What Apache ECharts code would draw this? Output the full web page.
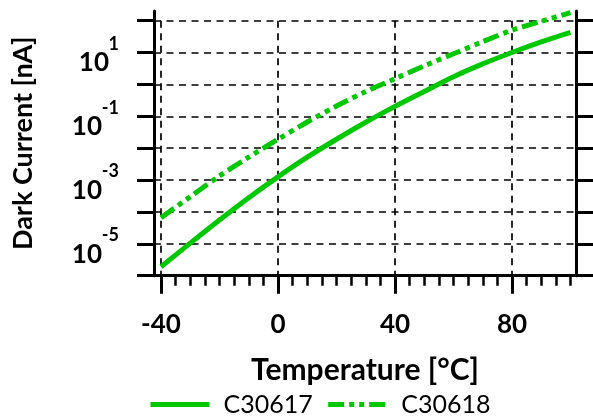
<!DOCTYPE html>
<html>
<head>
<meta charset="utf-8">
<script src="https://cdn.jsdelivr.net/npm/echarts@6/dist/echarts.min.js"></script>
<style>
html,body{margin:0;padding:0;background:#fff;}
#chart{width:593px;height:419px;}
</style>
</head>
<body>
<div id="chart"></div>
<script>
// Temperature (°C)
const temperatures = [-40, -30, -20, -10, 0, 10, 20, 30, 40, 50, 60, 70, 80, 90, 100];
// Dark current (nA)
const c30617 = [1.9e-6, 1.05e-5, 5.6e-5, 2.8e-4, 1.26e-3, 5.2e-3, 0.019, 0.065, 0.204, 0.60, 1.74, 4.4, 10, 21.4, 42.7];
const c30618 = [6.6e-5, 3.0e-4, 1.35e-3, 5.2e-3, 0.019, 0.066, 0.209, 0.60, 1.51, 3.8, 9.1, 21.9, 50, 95, 178];
const seriesNames = ['C30617', 'C30618'];
const xTickLabels = ['-40', '0', '40', '80'];
const yLabelExps = [1, -1, -3, -5];

const FONT = 'Lato';
const GREEN = '#00c800';
const gridDash = { color: '#000', width: 1.7, type: [7, 5.5] };

const chart = echarts.init(document.getElementById('chart'));
const pairs = arr => temperatures.map((t, i) => [t, arr[i]]);

chart.setOption({
  animation: false,
  backgroundColor: '#fff',
  grid: [
    { left: 161, right: 22.5, top: 11, bottom: 143.3 },   // 0 main plot
    { left: 154, right: 17, top: 11, bottom: 143.3 },     // 1 frame
    { left: 161, right: 81, top: 20.7, bottom: 143.3 },   // 2 x major ticks/grid
    { left: 154, right: 17, top: 20.7, bottom: 143.3 }    // 3 y ticks/grid
  ],
  xAxis: [
    { gridIndex: 0, type: 'value', min: -40, max: 100, interval: 5,
      axisLine: { show: false, onZero: false },
      axisTick: { show: true, length: 10, lineStyle: { color: '#000', width: 2.5 } },
      axisLabel: { show: false }, splitLine: { show: false } },
    { gridIndex: 1, type: 'value', min: 0, max: 1,
      axisLine: { show: true, onZero: false, lineStyle: { color: '#000', width: 3 } },
      axisTick: { show: false }, axisLabel: { show: false }, splitLine: { show: false },
      name: 'Temperature [°C]', nameLocation: 'middle', nameGap: 80,
      nameTextStyle: { fontFamily: FONT, fontWeight: 'bold', fontSize: 30, color: '#000' } },
    { gridIndex: 2, type: 'value', min: -40, max: 80, interval: 40,
      axisLine: { show: false, onZero: false },
      axisTick: { show: true, length: 18, lineStyle: { color: '#000', width: 3 } },
      axisLabel: { show: true, margin: 36, fontFamily: FONT, fontWeight: 'bold', fontSize: 26, color: '#000',
        formatter: v => xTickLabels.includes(String(v)) ? String(v) : '' },
      splitLine: { show: true, lineStyle: gridDash } },
    { gridIndex: 3, type: 'value', min: 0, max: 1, show: false }
  ],
  yAxis: [
    { gridIndex: 0, type: 'log', min: 1e-6, max: 200, show: false },
    { gridIndex: 1, type: 'value', min: 0, max: 1, position: 'left',
      axisLine: { show: true, onZero: false, lineStyle: { color: '#000', width: 3 } },
      axisTick: { show: false }, axisLabel: { show: false }, splitLine: { show: false },
      name: 'Dark Current [nA]', nameLocation: 'middle', nameGap: 117, nameRotate: 90,
      nameTextStyle: { fontFamily: FONT, fontWeight: 'bold', fontSize: 27, color: '#000' } },
    { gridIndex: 1, type: 'value', min: 0, max: 1, position: 'right',
      axisLine: { show: true, onZero: false, lineStyle: { color: '#000', width: 3 } },
      axisTick: { show: false }, axisLabel: { show: false }, splitLine: { show: false } },
    { gridIndex: 3, type: 'log', min: 1e-6, max: 100, splitNumber: 8, position: 'left',
      axisLine: { show: false, onZero: false },
      axisTick: { show: true, length: 17, lineStyle: { color: '#000', width: 3 } },
      axisLabel: { show: true, margin: 35, color: '#000', align: 'right',
        formatter: v => {
          const e = Math.round(Math.log10(v));
          if (!yLabelExps.includes(e)) return '';
          return '{e|' + e + '}\n{' + (e < 0 ? 'bn' : 'bp') + '|10}';
        },
        rich: {
          e: { fontFamily: FONT, fontWeight: 'bold', fontSize: 18, lineHeight: 21, color: '#000', align: 'right' },
          bp: { fontFamily: FONT, fontWeight: 'bold', fontSize: 26, lineHeight: 17, color: '#000', align: 'right', padding: [0, 10, 0, 0] },
          bn: { fontFamily: FONT, fontWeight: 'bold', fontSize: 26, lineHeight: 17, color: '#000', align: 'right', padding: [0, 17, 0, 0] }
        } },
      splitLine: { show: true, lineStyle: gridDash } },
    { gridIndex: 3, type: 'log', min: 1e-6, max: 100, splitNumber: 8, position: 'right',
      axisLine: { show: false, onZero: false },
      axisTick: { show: true, length: 17, lineStyle: { color: '#000', width: 3 } },
      axisLabel: { show: false }, splitLine: { show: false } },
    { gridIndex: 2, type: 'value', min: 0, max: 1, show: false }
  ],
  legend: {
    data: seriesNames,
    left: 148, top: 392, padding: 0,
    itemWidth: 59, itemHeight: 14, itemGap: 13,
    itemStyle: { opacity: 0 },
    lineStyle: { width: 5 },
    textStyle: { fontFamily: FONT, fontSize: 25, color: '#000', padding: [0, 0, 0, 9] }
  },
  series: [
    { name: seriesNames[0], type: 'line', xAxisIndex: 0, yAxisIndex: 0,
      data: pairs(c30617), smooth: 0.3, symbol: 'none',
      lineStyle: { color: GREEN, width: 5 }, itemStyle: { color: GREEN } },
    { name: seriesNames[1], type: 'line', xAxisIndex: 0, yAxisIndex: 0,
      data: pairs(c30618), smooth: 0.3, symbol: 'none',
      lineStyle: { color: GREEN, width: 5, type: [16, 5, 5, 5, 5, 5] }, itemStyle: { color: GREEN } }
  ]
});
</script>
</body>
</html>
